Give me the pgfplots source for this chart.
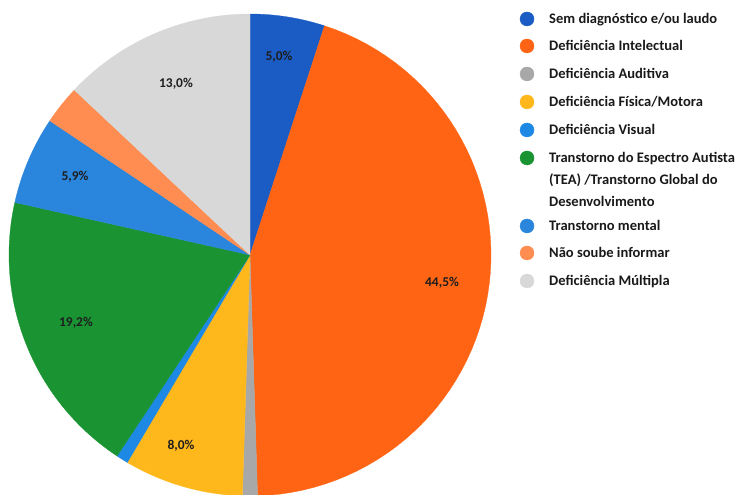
\documentclass[border=0pt]{standalone}
\usepackage{fontspec}
\setmainfont{Carlito}
\usepackage{pgfplots}
\pgfplotsset{compat=1.18}
\definecolor{cSem}{HTML}{1A5BC4}
\definecolor{cInt}{HTML}{FF6414}
\definecolor{cAud}{HTML}{A8A8A8}
\definecolor{cFis}{HTML}{FFB81C}
\definecolor{cVis}{HTML}{1E88E5}
\definecolor{cTEA}{HTML}{1A9432}
\definecolor{cMen}{HTML}{2A85DC}
\definecolor{cNao}{HTML}{FF8C50}
\definecolor{cMul}{HTML}{D8D8D8}
\definecolor{cLab}{HTML}{1E1E1E}
% slice shares (percent), clockwise from 12 o'clock
% Sem 5.0, Intelectual 44.5, Auditiva 1.0, Fisica 8.0, Visual 0.8,
% TEA 19.2, Mental 5.9, Nao soube 2.6, Multipla 13.0
\newcommand{\slice}[3]{% #1 cumulative start, #2 cumulative end, #3 colour
  \addplot[fill=#3, draw=#3, line width=0.3pt, domain={90-3.6*#2}:{90-3.6*#1}, samples=60, forget plot]
    ({250+241*cos(x)},{240+241*sin(x)}) -- (axis cs:250,240) -- cycle;}
\begin{document}
\begin{tikzpicture}
\begin{axis}[
  width=742bp, height=495bp, scale only axis,
  xmin=0, xmax=742, ymin=0, ymax=495,
  hide axis, clip=true,
]
\slice{0}{5.0}{cSem}
\slice{5.0}{49.5}{cInt}
\slice{49.5}{50.5}{cAud}
\slice{50.5}{58.5}{cFis}
\slice{58.5}{59.3}{cVis}
\slice{59.3}{78.5}{cTEA}
\slice{78.5}{84.4}{cMen}
\slice{84.4}{87.0}{cNao}
\slice{87.0}{100}{cMul}

\begin{scope}[every node/.style={font=\fontsize{13.5}{15}\selectfont\bfseries, text=cLab}]
\node at (axis cs:279,438) {5,0\%};
\node at (axis cs:442,212) {44,5\%};
\node at (axis cs:181,49) {8,0\%};
\node at (axis cs:76,172) {19,2\%};
\node at (axis cs:75,318) {5,9\%};
\node at (axis cs:176,411) {13,0\%};
\end{scope}

% legend swatches
\addplot[only marks, mark=*, mark size=7bp, color=cSem, forget plot] coordinates {(527,476)};
\addplot[only marks, mark=*, mark size=7bp, color=cInt, forget plot] coordinates {(527,449)};
\addplot[only marks, mark=*, mark size=7bp, color=cAud, forget plot] coordinates {(527,421)};
\addplot[only marks, mark=*, mark size=7bp, color=cFis, forget plot] coordinates {(527,393)};
\addplot[only marks, mark=*, mark size=7bp, color=cVis, forget plot] coordinates {(527,365)};
\addplot[only marks, mark=*, mark size=7bp, color=cTEA, forget plot] coordinates {(527,337)};
\addplot[only marks, mark=*, mark size=7bp, color=cMen, forget plot] coordinates {(527,269)};
\addplot[only marks, mark=*, mark size=7bp, color=cNao, forget plot] coordinates {(527,242)};
\addplot[only marks, mark=*, mark size=7bp, color=cMul, forget plot] coordinates {(527,214)};

\begin{scope}[every node/.style={font=\fontsize{14.6}{18}\selectfont\bfseries, text=black!90, anchor=base west, inner sep=0pt}]
\node at (axis cs:549,471) {Sem diagnóstico e/ou laudo};
\node at (axis cs:549,444) {Deficiência Intelectual};
\node at (axis cs:549,416) {Deficiência Auditiva};
\node at (axis cs:549,388) {Deficiência Física/Motora};
\node at (axis cs:549,360) {Deficiência Visual};
\node at (axis cs:549,332) {Transtorno do Espectro Autista};
\node at (axis cs:549,310) {(TEA) /Transtorno Global do};
\node at (axis cs:549,288) {Desenvolvimento};
\node at (axis cs:549,264) {Transtorno mental};
\node at (axis cs:549,237) {Não soube informar};
\node at (axis cs:549,209) {Deficiência Múltipla};
\end{scope}
\end{axis}
\pgfresetboundingbox
\useasboundingbox (current axis.south west) rectangle (current axis.north east);
\end{tikzpicture}
\end{document}
